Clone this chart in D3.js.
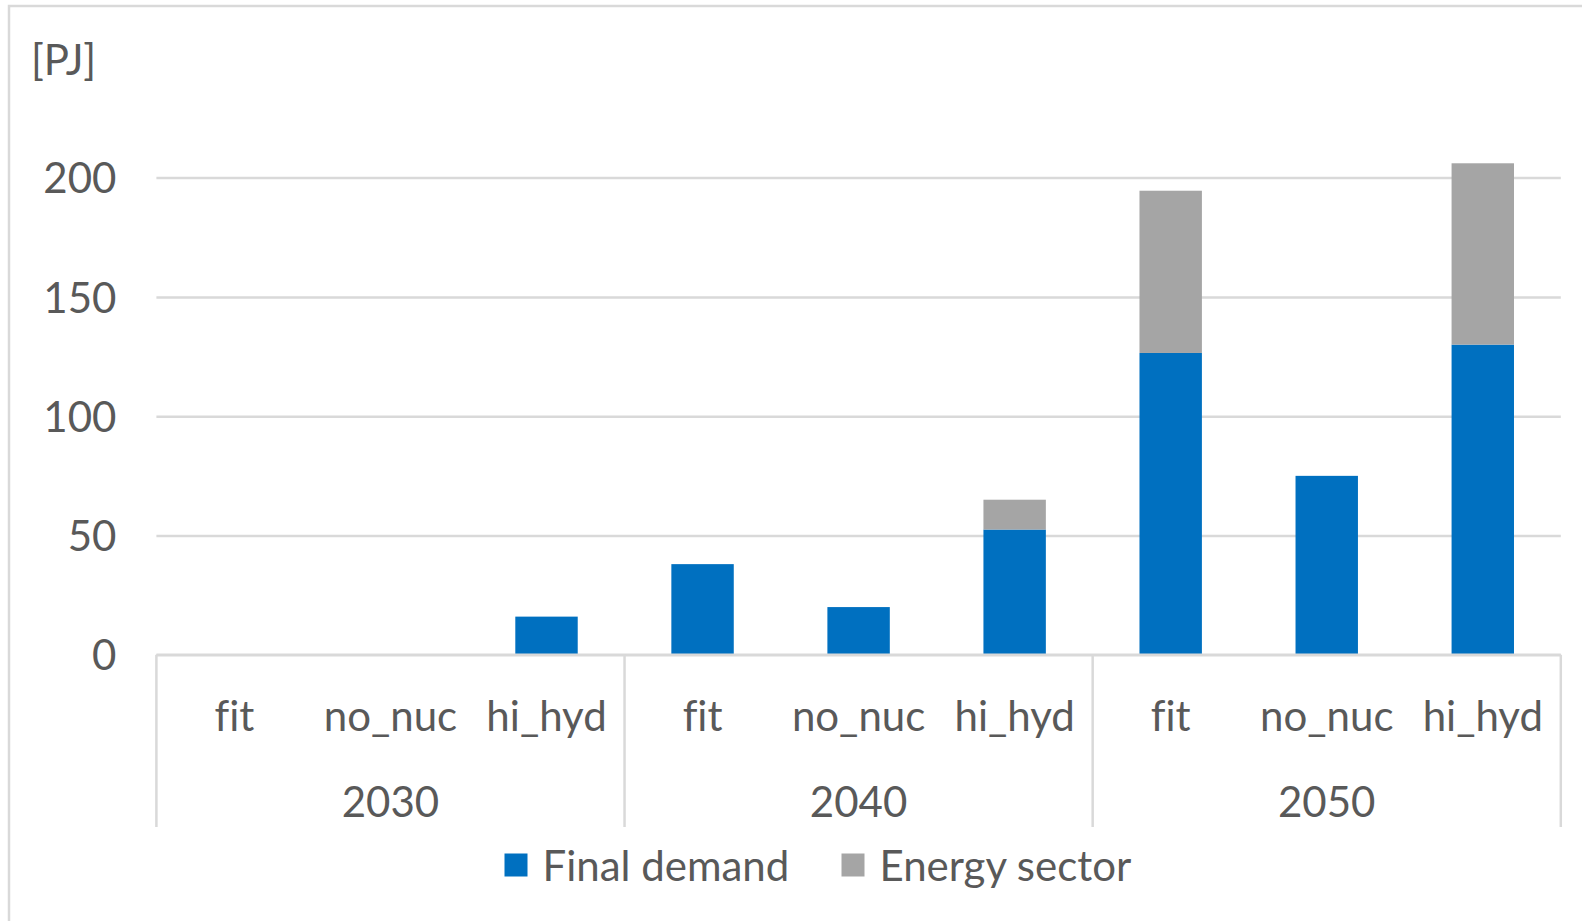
<!DOCTYPE html>
<html>
<head>
<meta charset="utf-8">
<script src="https://cdn.jsdelivr.net/npm/d3@7"></script>
<style>
  body { margin: 0; background: #fff; }
  svg { display: block; }
  svg text { font-family: Lato, "Open Sans", sans-serif; font-variant-ligatures: none; }
</style>
</head>
<body>
<svg id="chart" width="1582" height="921"></svg>
<script>
// chart values
const years = ['2030', '2040', '2050'];
const scenarios = ['fit', 'no_nuc', 'hi_hyd'];
const finalDemand = [0, 0, 16, 38, 20, 52.5, 126.5, 75, 130];
const energySector = [0, 0, 0, 0, 0, 12.5, 68, 0, 76];
const yTicks = [0, 50, 100, 150, 200];
const seriesNames = ['Final demand', 'Energy sector'];
const colors = ['#0070C0', '#A5A5A5'];

const svg = d3.select('#chart');
const textColor = '#595959';
const lineColor = '#D9D9D9';
const fs = 42;

// plot area
const left = 156.4, right = 1560.8, y0 = 654.8, y200 = 177.6;

// frame of the chart (only top and left edge visible)
svg.append('rect')
  .attr('x', 9).attr('y', 6)
  .attr('width', 1600).attr('height', 1000)
  .attr('fill', 'none')
  .attr('stroke', lineColor).attr('stroke-width', 2.5);

// rows: one per year/scenario pair
const rows = [];
years.forEach(yr => scenarios.forEach(sc => rows.push({ key: yr + '|' + sc, year: yr, scen: sc })));
rows.forEach((r, i) => { r.final = finalDemand[i]; r.energy = energySector[i]; });

const x = d3.scaleBand()
  .domain(rows.map(r => r.key))
  .range([left, right])
  .paddingInner(0.6)
  .paddingOuter(0.3);

const xYear = d3.scaleBand()
  .domain(years)
  .range([left, right]);

const y = d3.scaleLinear()
  .domain([0, 200])
  .range([y0, y200]);

// gridlines + y labels
const yAxis = svg.append('g')
  .attr('transform', `translate(${left},0)`)
  .call(d3.axisLeft(y).tickValues(yTicks).tickSize(-(right - left)).tickPadding(40));
yAxis.attr('font-family', null).attr('font-size', null);
yAxis.select('.domain').remove();
yAxis.selectAll('line').attr('stroke', lineColor).attr('stroke-width', 2.5);
yAxis.selectAll('text')
  .attr('fill', textColor)
  .attr('font-size', fs)
  .attr('dy', '0.36em');

// stacked bars
const stack = d3.stack().keys(['final', 'energy']);
const layers = stack(rows);

svg.append('g').selectAll('g')
  .data(layers)
  .enter().append('g')
  .attr('fill', (d, i) => colors[i])
  .selectAll('rect')
  .data(d => d)
  .enter().append('rect')
  .attr('x', d => x(d.data.key))
  .attr('width', x.bandwidth())
  .attr('y', d => y(d[1]))
  .attr('height', d => y(d[0]) - y(d[1]));

// category axis line
svg.append('line')
  .attr('x1', left).attr('x2', right)
  .attr('y1', y(0)).attr('y2', y(0))
  .attr('stroke', lineColor).attr('stroke-width', 2.5);

// group separators
const seps = years.map(yr => xYear(yr)).concat([right]);
svg.append('g').selectAll('line')
  .data(seps)
  .enter().append('line')
  .attr('x1', d => d).attr('x2', d => d)
  .attr('y1', y(0)).attr('y2', 827)
  .attr('stroke', lineColor).attr('stroke-width', 2.5);

// scenario labels
svg.append('g').selectAll('text')
  .data(rows)
  .enter().append('text')
  .attr('x', d => x(d.key) + x.bandwidth() / 2)
  .attr('y', 731)
  .attr('text-anchor', 'middle')
  .attr('fill', textColor)
  .attr('font-size', fs)
  .text(d => d.scen);

// year labels
svg.append('g').selectAll('text')
  .data(years)
  .enter().append('text')
  .attr('x', d => xYear(d) + xYear.bandwidth() / 2)
  .attr('y', 817)
  .attr('text-anchor', 'middle')
  .attr('fill', textColor)
  .attr('font-size', fs)
  .text(d => d);

// unit label
svg.append('text')
  .attr('x', 31).attr('y', 75)
  .attr('fill', textColor)
  .attr('font-size', fs)
  .text('[PJ]');

// legend
const legendX = [504.5, 841.5];
const legend = svg.append('g').selectAll('g')
  .data(seriesNames)
  .enter().append('g')
  .attr('transform', (d, i) => `translate(${legendX[i]},853.5)`);
legend.append('rect')
  .attr('width', 23).attr('height', 23)
  .attr('fill', (d, i) => colors[i]);
legend.append('text')
  .attr('x', 38).attr('y', 27)
  .attr('fill', textColor)
  .attr('font-size', fs)
  .text(d => d);
</script>
</body>
</html>
